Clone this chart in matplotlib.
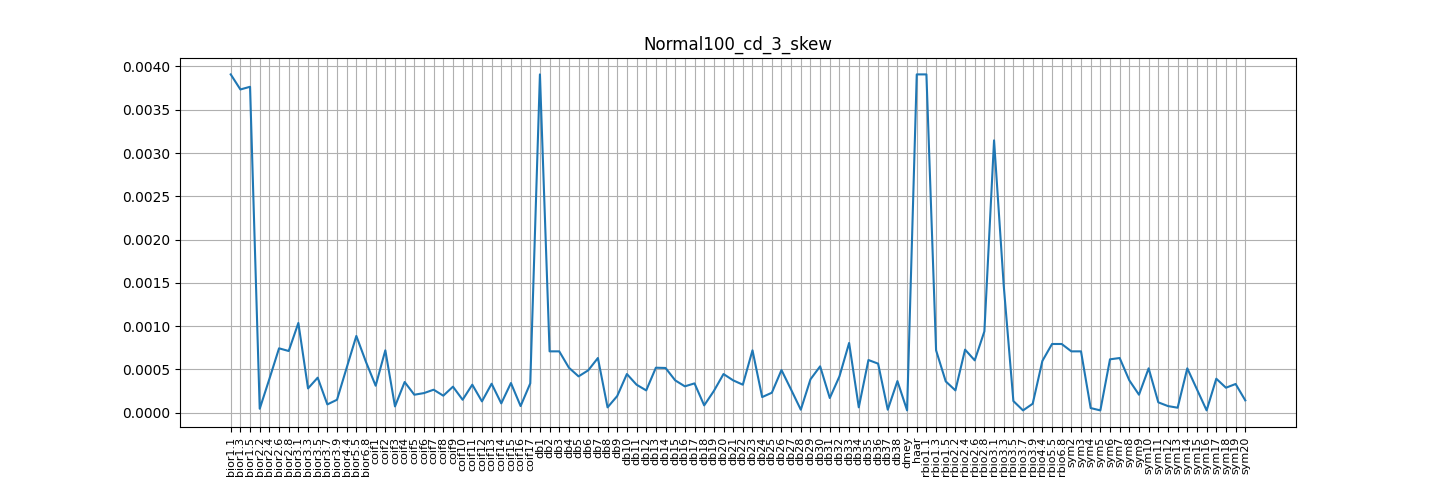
import matplotlib
matplotlib.use("Agg")
import matplotlib.pyplot as plt

# wavelet names (x categories)
wavelets = [
    "bior1.1", "bior1.3", "bior1.5", "bior2.2", "bior2.4", "bior2.6", "bior2.8",
    "bior3.1", "bior3.3", "bior3.5", "bior3.7", "bior3.9", "bior4.4", "bior5.5", "bior6.8",
    "coif1", "coif2", "coif3", "coif4", "coif5", "coif6", "coif7", "coif8", "coif9",
    "coif10", "coif11", "coif12", "coif13", "coif14", "coif15", "coif16", "coif17",
    "db1", "db2", "db3", "db4", "db5", "db6", "db7", "db8", "db9", "db10",
    "db11", "db12", "db13", "db14", "db15", "db16", "db17", "db18", "db19", "db20",
    "db21", "db22", "db23", "db24", "db25", "db26", "db27", "db28", "db29", "db30",
    "db31", "db32", "db33", "db34", "db35", "db36", "db37", "db38",
    "dmey", "haar",
    "rbio1.1", "rbio1.3", "rbio1.5", "rbio2.2", "rbio2.4", "rbio2.6", "rbio2.8",
    "rbio3.1", "rbio3.3", "rbio3.5", "rbio3.7", "rbio3.9", "rbio4.4", "rbio5.5", "rbio6.8",
    "sym2", "sym3", "sym4", "sym5", "sym6", "sym7", "sym8", "sym9", "sym10",
    "sym11", "sym12", "sym13", "sym14", "sym15", "sym16", "sym17", "sym18", "sym19", "sym20",
]

# skew values
bior_vals = [0.003908, 0.003734, 0.003765, 0.000046, 0.00039, 0.000744, 0.000713,
             0.001037, 0.000281, 0.000405, 0.000096, 0.00015, 0.00052, 0.000887, 0.000586]
coif_vals = [0.000312, 0.000721, 0.000073, 0.000355, 0.000208, 0.000227, 0.000266,
             0.000197, 0.000301, 0.00015, 0.000324, 0.000131, 0.000335, 0.000108,
             0.000343, 0.000077, 0.000339]
db_vals = [0.003908, 0.000709, 0.000709, 0.00052, 0.00042, 0.00049, 0.000632, 0.000062,
           0.000193, 0.000447, 0.000324, 0.000258, 0.00052, 0.000517, 0.000374, 0.000305,
           0.000339, 0.000085, 0.000251, 0.000447, 0.000374, 0.000324, 0.000721, 0.000181,
           0.000231, 0.000493, 0.000266, 0.000035, 0.000386, 0.000536, 0.00017, 0.00042,
           0.000806, 0.000062, 0.000609, 0.000567, 0.000035, 0.000366]
other_vals = [0.000027, 0.003908]  # dmey, haar
rbio_vals = [0.003908, 0.000721, 0.000362, 0.000258, 0.000729, 0.000605, 0.00094,
             0.003146, 0.00147, 0.000135, 0.000027, 0.000104, 0.000598, 0.000794, 0.000794]
sym_vals = [0.000709, 0.000709, 0.000054, 0.000027, 0.000617, 0.000632, 0.000374,
            0.000208, 0.000513, 0.00012, 0.000077, 0.000058, 0.000513, 0.00027,
            0.000027, 0.000393, 0.000289, 0.000332, 0.000143]

skew = bior_vals + coif_vals + db_vals + other_vals + rbio_vals + sym_vals

fig = plt.figure(figsize=(14.4, 4.8), dpi=100)
plt.plot(wavelets, skew)
plt.xticks(rotation=90, fontsize=8)
plt.title("Normal100_cd_3_skew")
plt.grid(True)
plt.savefig("out.png")
